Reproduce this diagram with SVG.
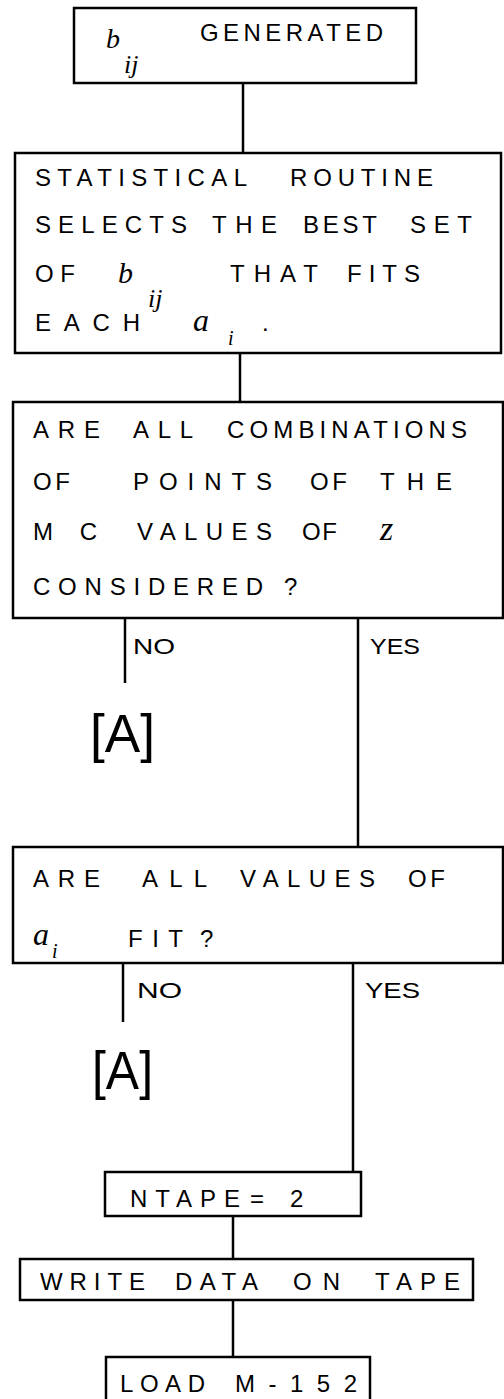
<svg xmlns="http://www.w3.org/2000/svg" width="504" height="1399" viewBox="0 0 504 1399">
<style>
.box{fill:none;stroke:#000;stroke-width:2.5}
.ln{stroke:#000;stroke-width:2.5;fill:none}
.t{font-family:"Liberation Sans",Arial,sans-serif;font-size:24px;fill:#000}
.s{font-family:"Liberation Serif","Times New Roman",serif;font-style:italic;fill:#000}
.lab{font-family:"Liberation Sans",Arial,sans-serif;font-size:22px;fill:#000}
.ref{font-family:"Liberation Sans",Arial,sans-serif;font-size:54px;fill:#000}
</style>
<rect width="504" height="1399" fill="#fff"/>
<g id="connectors">
<line class="ln" x1="243" y1="83" x2="243" y2="153"/>
<line class="ln" x1="240" y1="353" x2="240" y2="402"/>
<line class="ln" x1="125" y1="618" x2="125" y2="683"/>
<line class="ln" x1="358" y1="618" x2="358" y2="847"/>
<line class="ln" x1="123" y1="963" x2="123" y2="1022"/>
<line class="ln" x1="353" y1="963" x2="353" y2="1172"/>
<line class="ln" x1="233" y1="1216" x2="233" y2="1259"/>
<line class="ln" x1="233" y1="1300" x2="233" y2="1357"/>
<text class="lab" x="133" y="654" textLength="42" lengthAdjust="spacingAndGlyphs">NO</text>
<text class="lab" x="370" y="654" textLength="50" lengthAdjust="spacingAndGlyphs">YES</text>
<text class="lab" x="137" y="998" textLength="45" lengthAdjust="spacingAndGlyphs">NO</text>
<text class="lab" x="365" y="998" textLength="55" lengthAdjust="spacingAndGlyphs">YES</text>
</g>
<g id="n1">
<rect class="box" x="74" y="8" width="342" height="75"/>
<text class="s" x="106" y="48" font-size="28">b</text>
<text class="s" x="124" y="73" font-size="26">ij</text>
<text class="t" x="200" y="41" textLength="183" lengthAdjust="spacing">GENERATED</text>
</g>
<g id="n2">
<rect class="box" x="15" y="153" width="486" height="200"/>
<text class="t" x="35" y="186" textLength="212" lengthAdjust="spacing">STATISTICAL</text>
<text class="t" x="290" y="186" textLength="143" lengthAdjust="spacing">ROUTINE</text>
<text class="t" x="35" y="233" textLength="152" lengthAdjust="spacing">SELECTS</text>
<text class="t" x="212" y="233" textLength="65" lengthAdjust="spacing">THE</text>
<text class="t" x="303" y="233" textLength="74" lengthAdjust="spacing">BEST</text>
<text class="t" x="410" y="233" textLength="62" lengthAdjust="spacing">SET</text>
<text class="t" x="35" y="282" textLength="40" lengthAdjust="spacing">OF</text>
<text class="s" x="118" y="283" font-size="30">b</text>
<text class="s" x="148" y="307" font-size="26">ij</text>
<text class="t" x="230" y="282" textLength="88" lengthAdjust="spacing">THAT</text>
<text class="t" x="347" y="282" textLength="73" lengthAdjust="spacing">FITS</text>
<text class="t" x="35" y="331" textLength="105" lengthAdjust="spacing">EACH</text>
<text class="s" x="193" y="331" font-size="32">a</text>
<text class="s" x="228" y="345" font-size="20">i</text>
<text class="t" x="262" y="331">.</text>
</g>
<g id="n3">
<rect class="box" x="13" y="402" width="490" height="216"/>
<text class="t" x="33" y="438" textLength="67" lengthAdjust="spacing">ARE</text>
<text class="t" x="133" y="438" textLength="60" lengthAdjust="spacing">ALL</text>
<text class="t" x="227" y="438" textLength="240" lengthAdjust="spacing">COMBINATIONS</text>
<text class="t" x="33" y="490" textLength="37" lengthAdjust="spacing">OF</text>
<text class="t" x="133" y="490" textLength="139" lengthAdjust="spacing">POINTS</text>
<text class="t" x="310" y="490" textLength="37" lengthAdjust="spacing">OF</text>
<text class="t" x="380" y="490" textLength="72" lengthAdjust="spacing">THE</text>
<text class="t" x="33" y="540" textLength="64" lengthAdjust="spacing">MC</text>
<text class="t" x="137" y="540" textLength="135" lengthAdjust="spacing">VALUES</text>
<text class="t" x="302" y="540" textLength="35" lengthAdjust="spacing">OF</text>
<text class="s" x="380" y="540" font-size="34">z</text>
<text class="t" x="33" y="595" textLength="230" lengthAdjust="spacing">CONSIDERED</text>
<text class="t" x="284" y="595">?</text>
</g>
<g id="refA1">
<text class="ref" x="90" y="752" textLength="65" lengthAdjust="spacingAndGlyphs">[A]</text>
</g>
<g id="n4">
<rect class="box" x="13" y="847" width="490" height="116"/>
<text class="t" x="33" y="887" textLength="67" lengthAdjust="spacing">ARE</text>
<text class="t" x="142" y="887" textLength="65" lengthAdjust="spacing">ALL</text>
<text class="t" x="240" y="887" textLength="135" lengthAdjust="spacing">VALUES</text>
<text class="t" x="408" y="887" textLength="37" lengthAdjust="spacing">OF</text>
<text class="s" x="33" y="945" font-size="32">a</text>
<text class="s" x="52" y="958" font-size="20">i</text>
<text class="t" x="128" y="947" textLength="55" lengthAdjust="spacing">FIT</text>
<text class="t" x="200" y="947">?</text>
</g>
<g id="refA2">
<text class="ref" x="92" y="1089" textLength="61" lengthAdjust="spacingAndGlyphs">[A]</text>
</g>
<g id="n5">
<rect class="box" x="105" y="1172" width="256" height="44"/>
<text class="t" x="130" y="1207" textLength="110" lengthAdjust="spacing">NTAPE</text>
<text class="t" x="250" y="1207">=</text>
<text class="t" x="290" y="1207">2</text>
</g>
<g id="n6">
<rect class="box" x="20" y="1259" width="453" height="41"/>
<text class="t" x="40" y="1290" textLength="105" lengthAdjust="spacing">WRITE</text>
<text class="t" x="175" y="1290" textLength="83" lengthAdjust="spacing">DATA</text>
<text class="t" x="293" y="1290" textLength="47" lengthAdjust="spacing">ON</text>
<text class="t" x="375" y="1290" textLength="85" lengthAdjust="spacing">TAPE</text>
</g>
<g id="n7">
<rect class="box" x="106" y="1357" width="264" height="60"/>
<text class="t" x="120" y="1392" textLength="85" lengthAdjust="spacing">LOAD</text>
<text class="t" x="235" y="1392" textLength="122" lengthAdjust="spacing">M-152</text>
</g>
</svg>
